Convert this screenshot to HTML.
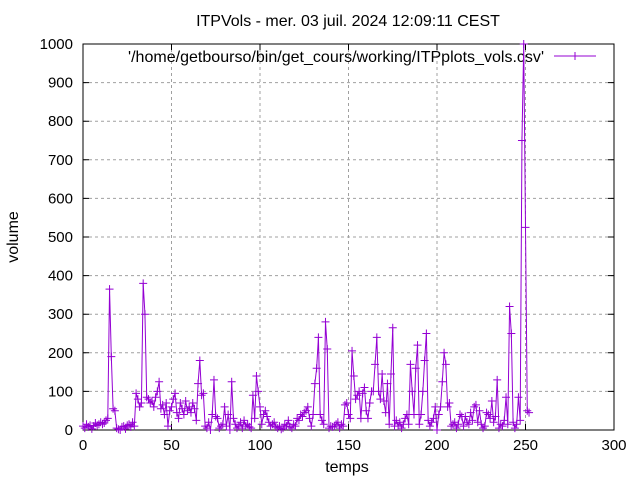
<!DOCTYPE html>
<html><head><meta charset="utf-8"><style>
body{margin:0;background:#fff;}
svg{font-family:"Liberation Sans",sans-serif;}
</style></head><body>
<svg id="chart" width="640" height="480">
<text x="348" y="26" font-size="16" text-anchor="middle">ITPVols - mer. 03 juil. 2024 12:09:11 CEST</text>
<g id="grid"></g>
<g id="ticks"></g>
<rect x="83" y="44" width="531" height="386" fill="none" stroke="#000" stroke-width="1"/>
<text x="18" y="237" font-size="16" text-anchor="middle" transform="rotate(-90 18 237)">volume</text>
<text x="347" y="472" font-size="16" text-anchor="middle">temps</text>
<g>
<text x="544" y="62" font-size="16" text-anchor="end" textLength="416">'/home/getbourso/bin/get_cours/working/ITPplots_vols.csv'</text>
<line x1="554" y1="56" x2="596" y2="56" stroke="#9400d3" stroke-width="1"/>
<path d="M571 56h8M575 52v8" stroke="#9400d3"/>
</g>
<g id="series"></g>
</svg>
<script>
const xTicks=[0,50,100,150,200,250,300];
const yTicks=[0,100,200,300,400,500,600,700,800,900,1000];
const volumes=[10,5,15,8,12,3,10,18,12,15,
20,15,18,25,30,365,190,55,50,5,
2,0,8,10,3,12,15,8,20,10,
95,80,60,70,380,300,85,80,70,75,
60,85,100,125,55,65,40,70,10,50,
60,80,95,45,30,70,55,40,75,50,
60,45,70,55,25,120,180,90,95,10,
5,20,0,40,130,35,30,5,10,15,
60,10,40,0,125,30,15,5,10,20,
5,25,10,15,8,5,90,30,140,100,
60,15,40,50,35,20,10,15,20,8,
5,10,2,5,15,10,25,8,5,15,
10,30,25,40,35,45,50,60,30,10,
40,120,160,240,40,25,15,280,210,5,
10,8,10,15,20,5,15,10,65,70,
40,30,205,140,80,90,100,30,95,110,
50,30,70,100,100,170,240,100,80,145,
75,45,120,15,145,265,10,25,10,20,
5,15,30,40,15,170,100,40,160,220,
15,40,100,180,250,25,10,20,30,60,
0,40,60,125,200,170,60,70,10,15,
20,5,15,40,35,10,35,20,15,45,
25,60,65,20,50,15,5,10,45,40,
30,75,20,35,130,5,15,10,25,85,
15,320,250,20,5,15,85,25,750,1000,
525,50,45];
const NS="http://www.w3.org/2000/svg";
const X0=83,X1=614,Y0=430,Y1=44;
function sx(v){return X0+(v-0)/(300-0)*(X1-X0);}
function sy(v){return Y0-(v-0)/(1000-0)*(Y0-Y1);}
function mk(tag,attrs,parent){const e=document.createElementNS(NS,tag);for(const k in attrs)e.setAttribute(k,attrs[k]);parent.appendChild(e);return e;}
const grid=document.getElementById('grid'),ticks=document.getElementById('ticks'),series=document.getElementById('series');
xTicks.forEach(t=>{
  const x=sx(t);
  if(t>0&&t<300){const g=mk('line',{x1:x,y1:Y0,x2:x,y2:Y1,stroke:'#a0a0a0','stroke-dasharray':'3,3'},grid);
  
  }
  const tl=mk('path',{d:`M${x} ${Y0}v-6M${x} ${Y1}v6`,stroke:'#000'},ticks);
  
  
  const tx=mk('text',{x:x,y:Y0+20,'font-size':15,'text-anchor':'middle'},ticks);tx.textContent=t;
  
  
});
yTicks.forEach(t=>{
  const y=sy(t);
  if(t>0&&t<1000){const g=mk('line',{x1:X0,y1:y,x2:X1,y2:y,stroke:'#a0a0a0','stroke-dasharray':'3,3'},grid);
  
  }
  const tl=mk('path',{d:`M${X0} ${y}h6M${X1} ${y}h-6`,stroke:'#000'},ticks);
  
  
  const tx=mk('text',{x:X0-10,y:y+5,'font-size':15,'text-anchor':'end'},ticks);tx.textContent=t;
  
  
});
let d='';
volumes.forEach((v,i)=>{d+=(i?'L':'M')+sx(i).toFixed(2)+' '+sy(v).toFixed(2);});
const line=mk('path',{d:d,fill:'none',stroke:'#9400d3','stroke-width':1},series);


let m='';
volumes.forEach((v,i)=>{const x=sx(i),y=sy(v);m+=`M${(x-4).toFixed(2)} ${y.toFixed(2)}h8M${x.toFixed(2)} ${(y-4).toFixed(2)}v8`;});
const marks=mk('path',{d:m,fill:'none',stroke:'#9400d3','stroke-width':1},series);


</script>
</body></html>
